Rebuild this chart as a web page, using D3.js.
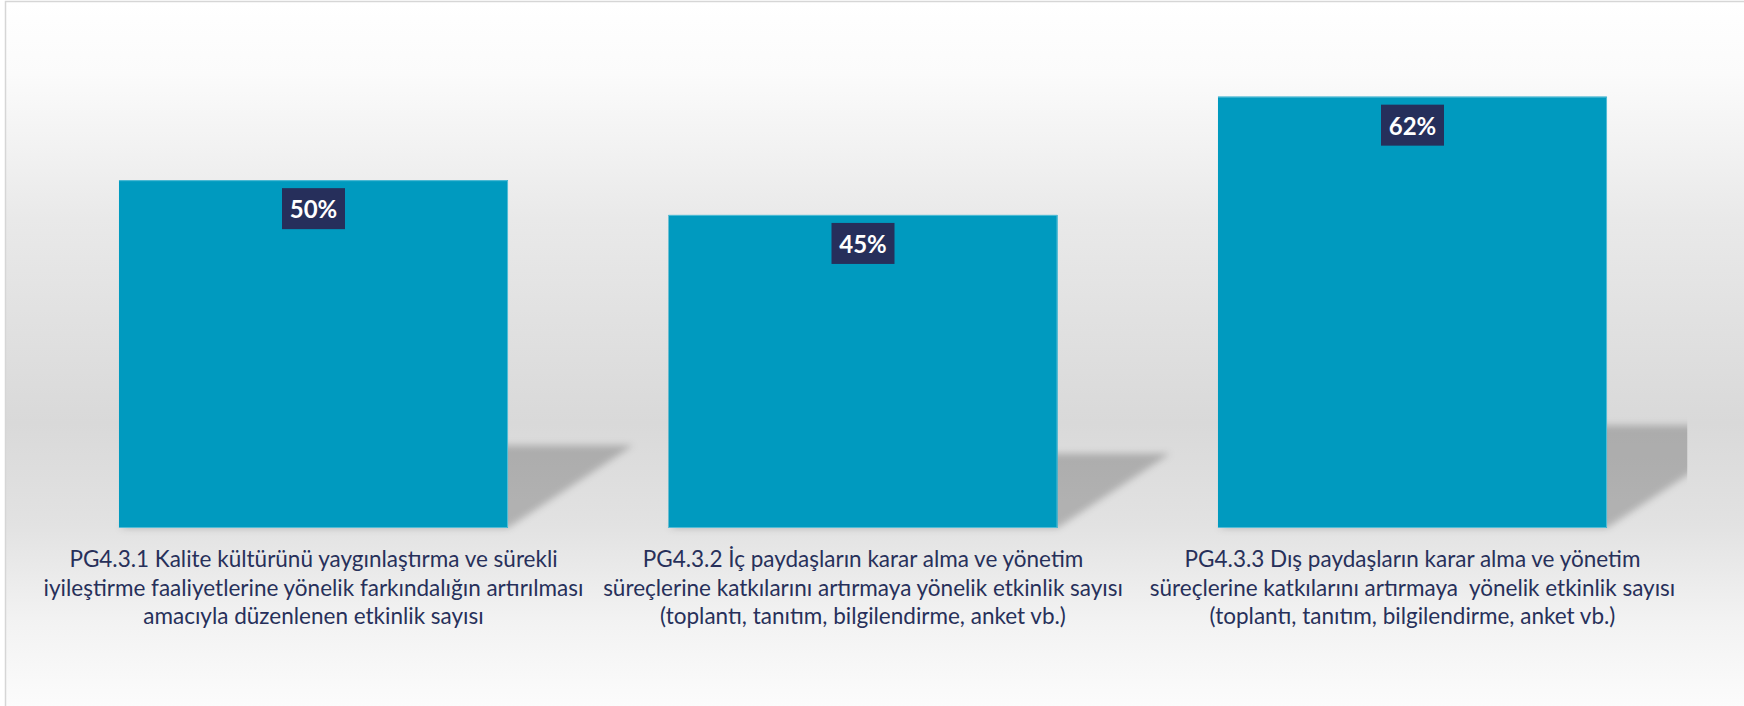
<!DOCTYPE html>
<html lang="tr">
<head>
<meta charset="UTF-8">
<title>PG4.3 Etkinlik Oranları</title>
<script src="https://d3js.org/d3.v7.min.js"></script>
<style>
  html, body { margin: 0; padding: 0; background: #ffffff; }
  svg { display: block; }
  .cat-label { font-family: Lato, "Open Sans", sans-serif; fill: #27305a; white-space: pre; }
  .val-label { font-family: Lato, "Open Sans", sans-serif; font-weight: 700; fill: #ffffff; }
</style>
</head>
<body>
<svg id="chart" width="1744" height="706"></svg>
<script>
  // data
  const codes = ["PG4.3.1", "PG4.3.2", "PG4.3.3"];
  const labelLines = [
    ["PG4.3.1 Kalite kültürünü yaygınlaştırma ve sürekli",
     "iyileştirme faaliyetlerine yönelik farkındalığın artırılması",
     "amacıyla düzenlenen etkinlik sayısı"],
    ["PG4.3.2 İç paydaşların karar alma ve yönetim",
     "süreçlerine katkılarını artırmaya yönelik etkinlik sayısı",
     "(toplantı, tanıtım, bilgilendirme, anket vb.)"],
    ["PG4.3.3 Dış paydaşların karar alma ve yönetim",
     "süreçlerine katkılarını artırmaya  yönelik etkinlik sayısı",
     "(toplantı, tanıtım, bilgilendirme, anket vb.)"]
  ];
  const values = [0.50, 0.45, 0.62];
  const yDomain = [0, 0.70];

  const W = 1744, H = 706;
  const plot = { left: 38.75, right: 1687.25, top: 41, bottom: 528 };

  const svg = d3.select("#chart");
  const defs = svg.append("defs");

  // chart background gradient
  const grad = defs.append("linearGradient")
    .attr("id", "bgGrad").attr("x1", 0).attr("y1", 0).attr("x2", 0).attr("y2", 1);
  [[0, "#ffffff"], [0.1, "#fbfbfb"], [0.3, "#e9e9e9"], [0.58, "#d9d9d9"],
   [0.72, "#e2e2e2"], [0.85, "#f2f2f2"], [1, "#fefefe"]].forEach(s => {
    grad.append("stop").attr("offset", s[0]).attr("stop-color", s[1]);
  });

  defs.append("filter").attr("id", "blur")
    .attr("x", "-20%").attr("y", "-20%").attr("width", "140%").attr("height", "140%")
    .append("feGaussianBlur").attr("stdDeviation", 3.5);

  defs.append("clipPath").attr("id", "plotClip")
    .append("rect")
    .attr("x", plot.left).attr("y", 0)
    .attr("width", plot.right - plot.left).attr("height", H);

  svg.append("rect")
    .attr("x", 5.5).attr("y", 1.5)
    .attr("width", W + 20).attr("height", H + 20)
    .attr("fill", "url(#bgGrad)")
    .attr("stroke", "#d6d6d6")
    .attr("stroke-width", 1.5);

  const data = codes.map((c, i) => ({ code: c, value: values[i], lines: labelLines[i] }));

  const x = d3.scaleBand()
    .domain(codes)
    .range([plot.left, plot.right])
    .paddingInner(0.292)
    .paddingOuter(0.146);

  const y = d3.scaleLinear()
    .domain(yDomain)
    .range([plot.bottom, plot.top]);

  const bw = x.bandwidth();
  const y0 = y(0);

  // perspective shadows behind the bars
  svg.append("g")
    .attr("clip-path", "url(#plotClip)")
    .selectAll(".shadow")
    .data(data)
    .enter()
    .append("polygon")
    .attr("class", "shadow")
    .attr("points", d => {
      const h = y0 - y(d.value);
      const x0 = x(d.code), x1 = x0 + bw;
      const dx = 0.36 * h, dy = 0.238 * h;
      return [[x0, y0], [x1, y0], [x1 + dx, y0 - dy], [x0 + dx, y0 - dy]].join(" ");
    })
    .attr("fill", "#000")
    .attr("fill-opacity", 0.21)
    .attr("filter", "url(#blur)");

  svg.selectAll(".bar")
    .data(data)
    .enter()
    .append("rect")
    .attr("class", "bar")
    .attr("x", d => x(d.code))
    .attr("y", d => y(d.value))
    .attr("width", bw)
    .attr("height", d => y0 - y(d.value))
    .attr("fill", "#009abf");

  // light edge on top, right and bottom
  svg.selectAll(".bar-edge")
    .data(data)
    .enter()
    .append("path")
    .attr("class", "bar-edge")
    .attr("d", d => `M${x(d.code)},${y(d.value) + 0.5}H${x(d.code) + bw - 0.5}V${y0 - 0.5}H${x(d.code)}`)
    .attr("fill", "none")
    .attr("stroke", "#52bcd6")
    .attr("stroke-width", 1);

  // value labels
  const boxW = 63, boxH = 41;
  const vl = svg.selectAll(".val")
    .data(data)
    .enter()
    .append("g")
    .attr("class", "val")
    .attr("transform", d => `translate(${x(d.code) + bw / 2},${y(d.value) + 8})`);

  vl.append("rect")
    .attr("x", -boxW / 2).attr("y", 0)
    .attr("width", boxW).attr("height", boxH)
    .attr("fill", "#262f5b");

  vl.append("text")
    .attr("class", "val-label")
    .attr("x", 0).attr("y", 30)
    .attr("text-anchor", "middle")
    .attr("font-size", 24)
    .text(d => d3.format(".0%")(d.value));

  // category axis
  const axis = svg.append("g")
    .attr("transform", `translate(0,${y0})`)
    .call(d3.axisBottom(x).tickSize(0).tickPadding(0));

  axis.select(".domain").remove();

  axis.selectAll(".tick text")
    .attr("class", "cat-label")
    .attr("font-family", null)
    .attr("font-size", 22.5)
    .attr("y", null)
    .attr("dy", null)
    .attr("fill", null)
    .text(null)
    .each(function (code) {
      const lines = labelLines[codes.indexOf(code)];
      const t = d3.select(this);
      lines.forEach((ln, i) => {
        t.append("tspan")
          .attr("x", 0)
          .attr("y", 39 + i * 28.5)
          .text(ln);
      });
    });
</script>
</body>
</html>
